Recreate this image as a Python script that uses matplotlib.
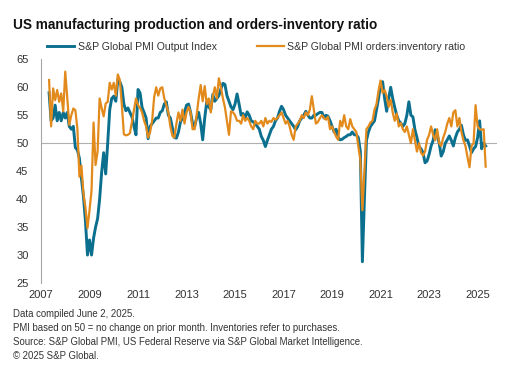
import numpy as np
import matplotlib
matplotlib.use("Agg")
import matplotlib.pyplot as plt

plt.rcParams['font.family'] = ['Liberation Sans', 'DejaVu Sans']

# Monthly data, May 2007 - May 2025
start_year = 2007
start_month = 5

output_index = [
    59, 54, 54.5, 56.8, 54, 55.5, 54, 55.5,                          # 2007
    54.5, 55.5, 53, 52.5, 53, 49.2, 48.8, 47.3, 43.7, 40.5, 36, 30,   # 2008
    32.7, 30, 33, 35, 36.5, 40, 44.8, 48.3, 44.5, 50, 56, 58,         # 2009
    58.4, 57.5, 61.4, 61, 60, 57, 55.8, 56.3, 55.5, 54.7, 53, 51.5,   # 2010
    59.6, 59, 56.4, 55.5, 54.5, 50.8, 53, 53.5, 54, 54.5, 54.5, 55.5, # 2011
    55.8, 57, 57.4, 55, 54.5, 52.7, 51, 50.9, 52, 53.8, 54.5, 55.5,   # 2012
    56.8, 57, 55.5, 53.5, 53, 54.5, 55.5, 53.5, 50.6, 54.5, 57.4, 56.5, # 2013
    56, 58.7, 57.5, 58, 58.5, 59.7, 60.7, 60.5, 58.5, 57.5, 56.5, 56,   # 2014
    57, 58.8, 57, 55, 55.3, 54.5, 55.6, 55, 54, 53.8, 53.5, 53,         # 2015
    52.5, 51.2, 50.5, 49.4, 50.5, 51.5, 52.5, 53, 54, 54.5, 55.7, 56.6, # 2016
    56, 55, 54.5, 54, 53.5, 53, 52.4, 53, 54, 54.5, 55, 55.7,           # 2017
    55, 54.5, 54.5, 55, 55, 55.3, 55.5, 55.5, 54.5, 55, 54.8, 54,       # 2018
    53, 52, 52.5, 51, 50.6, 50.7, 51, 51.2, 51.5, 51.5, 52, 51.5,       # 2019
    51.5, 51, 48.5, 28.8, 40, 50.5, 52, 53, 53.5, 54, 56, 58,           # 2020
    60.5, 61, 58, 55.7, 58, 60, 58, 56.4, 55, 54, 53.6, 53,             # 2021
    53.5, 55, 57.4, 55, 54.7, 52.4, 51, 49.4, 49, 48.3, 46.5, 46.8,     # 2022
    48, 49.5, 50.5, 52.4, 51.5, 50, 47.7, 48.5, 50, 50.6, 51.3, 50.5,   # 2023
    49.5, 51, 52, 52.5, 53.2, 51.5, 50.5, 50.6, 49.5, 48.3, 49, 49.4,   # 2024
    51, 54, 49, 50, 49.5,                                               # 2025
]

orders_inv_ratio = [
    61.3, 53, 59.8, 57.7, 59.5, 57.4, 58.9, 55.7,                       # 2007
    62.8, 58, 53.3, 55, 56.2, 55.9, 52.6, 44, 46, 41, 38.5, 34.8,       # 2008
    38, 41.5, 53.7, 46.1, 48.5, 58, 56.3, 54.8, 57.1, 57.4, 60.8, 59.6, # 2009
    60.8, 58.5, 62.3, 61.3, 56.8, 51.6, 51.4, 51.5, 51.8, 53.9, 56, 58, # 2010
    56.8, 56.3, 55.5, 54, 53, 51, 52, 54.1, 58.3, 60, 58.5, 59.8,       # 2011
    60, 58, 56.8, 55.5, 53, 51.3, 51, 53.5, 55.5, 54, 56, 53.5,         # 2012
    55.5, 56.5, 55.5, 52.5, 52.5, 55, 58, 60.4, 57.5, 60.2, 57, 58,     # 2013
    55.5, 58.4, 60, 58, 61.6, 60, 58, 56.4, 54, 51.5, 55.7, 55.5,       # 2014
    55, 54, 54, 53.5, 55, 54, 54.5, 54, 53, 52.5, 54, 53.5,             # 2015
    53.5, 54, 53, 54.5, 53.5, 54, 53.8, 54.5, 54.2, 54.5, 55, 55.5,     # 2016
    54.5, 53.5, 54, 53, 51.5, 50.6, 53, 53.5, 54, 55, 54.5, 55.5,       # 2017
    55, 56, 58.4, 56, 53.5, 53.8, 54.5, 55, 54.5, 54.2, 54.7, 52.5,     # 2018
    53, 52, 51.2, 50.6, 54, 53, 55, 53, 52.5, 54.3, 53, 52.5,           # 2019
    52, 49.4, 47, 38, 45, 52.5, 53, 53.7, 54, 56, 57, 59.4,             # 2020
    61.2, 59, 59.5, 58.4, 56.5, 57.8, 55.5, 54, 55.3, 53, 53.6, 52.5,   # 2021
    52, 53, 51.5, 50, 52.5, 50.5, 48.5, 50, 48.3, 47.8, 48.5, 50.6,     # 2022
    51.5, 53, 51.5, 50.5, 52.5, 50, 49.5, 51, 52, 53.5, 54.5, 53,       # 2023
    55.5, 55.9, 53, 54.5, 52, 50.5, 49.5, 47.5, 45.7, 49.5, 50, 56.8,   # 2024
    53, 52.5, 52.4, 52.5, 45.8,                                         # 2025
]

year_ticks = list(range(2007, 2026, 2))
y_ticks = list(range(25, 66, 5))

title = "US manufacturing production and orders-inventory ratio"
labels = ["S&P Global PMI Output Index", "S&P Global PMI orders:inventory ratio"]
footer = ("Data compiled June 2, 2025.\n"
          "PMI based on 50 = no change on prior month. Inventories refer to purchases.\n"
          "Source: S&P Global PMI, US Federal Reserve via S&P Global Market Intelligence.\n"
          "\u00a9 2025 S&P Global.")

# Decimal-year x positions
n = len(output_index)
x = start_year + (start_month - 1 + np.arange(n)) / 12.0

BLUE = '#0b6f8e'
ORANGE = '#e28a1c'
GREY_TXT = '#333333'

fig = plt.figure(figsize=(5.13, 3.70), dpi=100)
ax = fig.add_axes([41/513, 1 - 283/370, (497 - 41)/513, (283 - 59.3)/370])

ax.axhline(50, color='#b0b0b0', linewidth=0.8, zorder=1)
l1, = ax.plot(x, output_index, color=BLUE, linewidth=2.1, zorder=2)
l2, = ax.plot(x, orders_inv_ratio, color=ORANGE, linewidth=1.6, zorder=3)

ax.set_xlim(2007.0, 2025.8)
ax.set_ylim(25, 65)
ax.set_xticks(year_ticks)
ax.set_yticks(y_ticks)
ax.tick_params(axis='both', length=0, labelsize=8, colors=GREY_TXT)
ax.tick_params(axis='y', pad=9)
ax.tick_params(axis='x', pad=5)

for side in ['top', 'right', 'bottom']:
    ax.spines[side].set_visible(False)
ax.spines['left'].set_color('#a6a6a6')
ax.spines['left'].set_linewidth(0.8)

fig.text(13/513, 1 - 25/370, title, fontsize=9.8, fontweight='bold',
         color='#111111', va='center', ha='left')

fig.legend([l1, l2], labels, loc='center left', bbox_to_anchor=(47/513, 1 - 47/370),
           ncol=2, frameon=False, fontsize=7.6, handlelength=2.6, handletextpad=0.3,
           columnspacing=3.8, borderpad=0, borderaxespad=0, labelcolor=GREY_TXT)

fig.text(13/513, 1 - 309/370, footer, fontsize=6.9, color=GREY_TXT,
         va='top', ha='left', linespacing=1.5)

fig.savefig('out.png', dpi=100)
